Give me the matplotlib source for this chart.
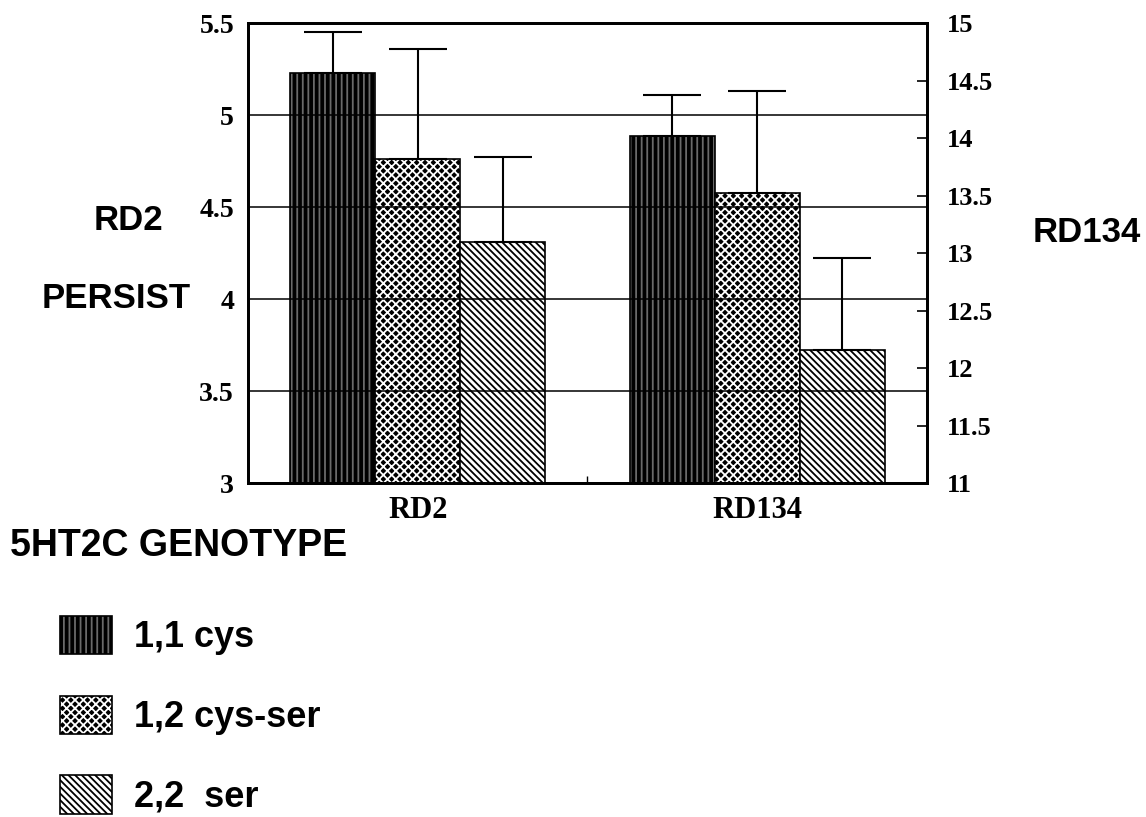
import matplotlib
matplotlib.use('Agg')
import matplotlib.pyplot as plt
from matplotlib.patches import Patch
import numpy as np

#------------------------------------------------------------------------------#

plt.rcParams['hatch.linewidth'] = 1.3

groups = ['RD2', 'RD134']
genotypes = ['1,1 cys', '1,2 cys-ser', '2,2  ser']

# group RD2 is read on the left axis, RD134 on the right one
rd2_means = [5.23, 4.76, 4.31]
rd2_errs = [0.22, 0.60, 0.46]
rd134_means = [14.02, 13.52, 12.16]
rd134_errs = [0.35, 0.89, 0.80]

left_ticks = [3, 3.5, 4, 4.5, 5, 5.5]
right_ticks = [11, 11.5, 12, 12.5, 13, 13.5, 14, 14.5, 15]

#------------------------------------------------------------------------------#

# black face + light hatch gives the streaks / diamond dots of the original
styles = [
    {'fc': 'black', 'hc': '#6a6a6a', 'hatch': '|||'},
    {'fc': 'black', 'hc': 'white', 'hatch': 'xxxx'},
    {'fc': 'white', 'hc': 'black', 'hatch': '\\' * 5},
]

serif = {'family': 'Liberation Serif', 'weight': 'bold'}
sans = {'family': 'Liberation Sans', 'weight': 'bold'}

width = 0.25

def hatched_bar(axis, x, h, st):
    axis.bar(x, h, width, facecolor=st['fc'], edgecolor=st['hc'],
             hatch=st['hatch'], linewidth=0)
    axis.bar(x, h, width, fill=False, edgecolor='black', linewidth=1.2)

def make_handle(st):
    p = Patch(facecolor=st['fc'], edgecolor=st['hc'], hatch=st['hatch'], linewidth=0)
    q = Patch(fill=False, edgecolor='black', linewidth=1.2)
    return (p, q)

#------------------------------------------------------------------------------#

def main():

    fig = plt.figure(figsize=(11.46, 8.17), dpi=100)
    ax = fig.add_axes([0.2164, 0.4088, 0.5925, 0.563])
    ax2 = ax.twinx()

    centers = np.arange(len(groups)) + 0.5
    offsets = (np.arange(len(genotypes)) - 1) * width

    for i, st in enumerate(styles):
        hatched_bar(ax, centers[0] + offsets[i], rd2_means[i], st)
        hatched_bar(ax2, centers[1] + offsets[i], rd134_means[i], st)

    ax.errorbar(centers[0] + offsets, rd2_means,
                yerr=[np.zeros(len(rd2_errs)), rd2_errs], fmt='none',
                ecolor='black', elinewidth=1.5, capsize=21, capthick=1.5)
    ax2.errorbar(centers[1] + offsets, rd134_means,
                 yerr=[np.zeros(len(rd134_errs)), rd134_errs], fmt='none',
                 ecolor='black', elinewidth=1.5, capsize=21, capthick=1.5)

    # left axis on top so its grid lines cross every bar
    ax.set_zorder(2)
    ax2.set_zorder(1)
    ax.patch.set_visible(False)

    ax.set_xlim(0, 2)
    ax.set_ylim(left_ticks[0], left_ticks[-1])
    ax2.set_ylim(right_ticks[0], right_ticks[-1])

    ax.set_yticks(left_ticks)
    ax.set_yticklabels([('%g' % v) for v in left_ticks], fontdict=serif, fontsize=20)
    ax.tick_params(axis='y', length=0, pad=10)
    ax.grid(True, axis='y', color='black', linewidth=1.1)
    ax.set_axisbelow(False)

    ax2.set_yticks(right_ticks)
    ax2.set_yticklabels([('%g' % v) for v in right_ticks], fontdict=serif, fontsize=19)
    ax2.tick_params(axis='y', direction='in', length=7, width=1.2, pad=14)

    ax.set_xticks([1])
    ax.set_xticklabels([''])
    ax.tick_params(axis='x', which='major', direction='in', length=5, width=1)
    ax.set_xticks(centers, minor=True)
    ax.set_xticklabels(groups, minor=True, fontdict=serif, fontsize=22)
    ax.tick_params(axis='x', which='minor', length=0, pad=9)

    for a in (ax, ax2):
        for s in a.spines.values():
            s.set_linewidth(2)

    fig.text(0.1117, 0.7295, 'RD2', ha='center', va='center', fontsize=25, **sans)
    fig.text(0.101, 0.635, 'PERSIST', ha='center', va='center', fontsize=25, **sans)
    fig.text(0.9485, 0.716, 'RD134', ha='center', va='center', fontsize=25, **sans)

    fig.text(0.009, 0.332, '5HT2C GENOTYPE', ha='left', va='center', fontsize=27, **sans)

    handles = [make_handle(st) for st in styles]
    fig.legend(handles, genotypes, loc='upper left', bbox_to_anchor=(0.052, 0.246),
               frameon=False, prop={'family': 'Liberation Sans', 'weight': 'bold', 'size': 26},
               handlelength=1.45, handleheight=1.25, handletextpad=0.6,
               labelspacing=1.12, borderpad=0, borderaxespad=0)

    fig.savefig('out.png', dpi=100)

#------------------------------------------------------------------------------#

if __name__ == "__main__":
    main()
